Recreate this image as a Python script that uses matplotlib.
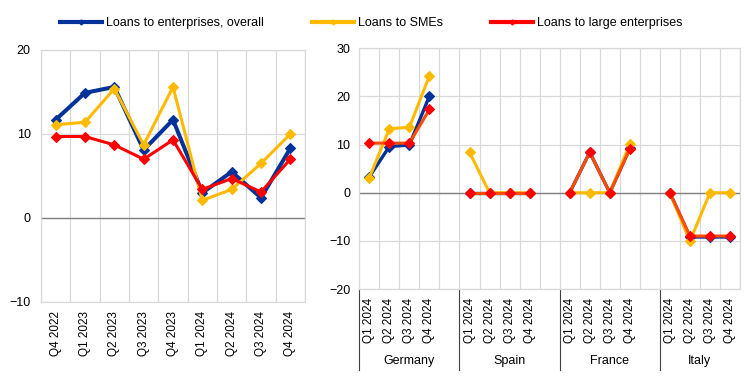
import matplotlib
matplotlib.use("Agg")
import matplotlib.pyplot as plt
from matplotlib.lines import Line2D

plt.rcParams['font.family'] = ['Liberation Sans', 'DejaVu Sans']

# ---- data ----
ea_labels = ['Q4 2022', 'Q1 2023', 'Q2 2023', 'Q3 2023', 'Q4 2023',
             'Q1 2024', 'Q2 2024', 'Q3 2024', 'Q4 2024']
ea_overall = [11.7, 14.9, 15.6, 8.1, 11.7, 3.0, 5.5, 2.4, 8.3]
ea_sme = [11.1, 11.4, 15.4, 8.7, 15.6, 2.1, 3.4, 6.5, 10.0]
ea_large = [9.7, 9.7, 8.7, 7.0, 9.3, 3.4, 4.7, 3.1, 7.0]

countries = ['Germany', 'Spain', 'France', 'Italy']
quarters = ['Q1 2024', 'Q2 2024', 'Q3 2024', 'Q4 2024']
ctry_overall = [[3.3, 9.6, 9.9, 20.1],
                [0.0, 0.0, 0.0, 0.0],
                [0.0, 8.4, 0.0, 9.2],
                [0.0, -9.2, -9.2, -9.2]]
ctry_sme = [[3.1, 13.3, 13.6, 24.3],
            [8.4, 0.0, 0.0, 0.0],
            [0.0, 0.0, 0.0, 10.1],
            [0.0, -10.1, 0.0, 0.0]]
ctry_large = [[10.3, 10.3, 10.3, 17.3],
              [0.0, 0.0, 0.0, 0.0],
              [0.0, 8.4, 0.0, 9.1],
              [0.0, -9.0, -9.0, -9.0]]

series_names = ['Loans to enterprises, overall', 'Loans to SMEs',
                'Loans to large enterprises']

BLUE = '#003299'
YELLOW = '#FFBA00'
RED = '#FF0000'
RED_LINE_R = '#FF4B00'
GRID = '#D9D9D9'
ZERO = '#808080'

W, H = 744, 379
fig = plt.figure(figsize=(W / 100, H / 100), dpi=100)

def fx(px):
    return px / W

def fy(px):
    return 1 - px / H

# ---- left panel ----
axL = fig.add_axes([fx(41), fy(302), fx(305 - 41), (302 - 50) / H])
n = len(ea_labels)
x = list(range(n))
axL.plot(x, ea_overall, color=BLUE, lw=2.9, marker='D', ms=5, mew=0.8, zorder=3)
axL.plot(x, ea_sme, color=YELLOW, lw=2.2, marker='D', ms=5, mew=0.8, zorder=4)
axL.plot(x, ea_large, color=RED, lw=2.2, marker='D', ms=5, mew=0.8, zorder=5)
axL.set_xlim(-0.5, n - 0.5)
axL.set_ylim(-10, 20)
axL.set_yticks([-10, 0, 10, 20])
axL.set_xticks(x)
axL.set_xticklabels(ea_labels, rotation=90, va='top', fontsize=8.5)
axL.set_xticks([i - 0.5 for i in range(n + 1)], minor=True)
axL.tick_params(axis='x', which='both', length=0, pad=6.5)
axL.tick_params(axis='y', length=0, pad=7.5, labelsize=9)
axL.grid(True, which='minor', axis='x', color=GRID, lw=0.9)
axL.grid(True, which='major', axis='y', color=GRID, lw=0.9)
axL.axhline(0, color=ZERO, lw=1.0, zorder=2)
for s in axL.spines.values():
    s.set_color(GRID)
    s.set_linewidth(0.9)

# ---- right panel ----
axR = fig.add_axes([fx(359.3), fy(289), fx(740 - 359.3), (289 - 48.3) / H])
step = len(quarters) + 1
ticks, tlabels = [], []
for i, c in enumerate(countries):
    xs = [i * step + j for j in range(len(quarters))]
    ticks += xs
    tlabels += quarters
    axR.plot(xs, ctry_overall[i], color=BLUE, lw=2.4, marker='D', ms=5, mew=0.8, zorder=3)
    axR.plot(xs, ctry_sme[i], color=YELLOW, lw=2.2, marker='D', ms=5, mew=0.8, zorder=4)
    axR.plot(xs, ctry_large[i], color=RED_LINE_R, lw=2.2, marker='D', ms=5, mew=0.8,
             mfc=RED, mec=RED, zorder=5)
ntot = step * len(countries) - 1
axR.set_xlim(-0.5, ntot - 0.5)
axR.set_ylim(-20, 30)
axR.set_yticks([-20, -10, 0, 10, 20, 30])
axR.set_xticks(ticks)
axR.set_xticklabels(tlabels, rotation=90, va='top', fontsize=8.5)
axR.set_xticks([i - 0.5 for i in range(ntot + 1)], minor=True)
axR.tick_params(axis='x', which='both', length=0, pad=6.5)
axR.tick_params(axis='y', length=0, pad=6.5, labelsize=9)
axR.grid(True, which='minor', axis='x', color=GRID, lw=0.9)
axR.grid(True, which='major', axis='y', color=GRID, lw=0.9)
axR.axhline(0, color=ZERO, lw=1.0, zorder=2)
for s in axR.spines.values():
    s.set_color(GRID)
    s.set_linewidth(0.9)

tr = axR.get_xaxis_transform()
for i, c in enumerate(countries):
    x0 = i * step - 0.5
    axR.plot([x0, x0], [0, -0.337], transform=tr, color='#404040', lw=0.8,
             clip_on=False, zorder=1)
    xc = i * step - 0.5 + min(step, ntot - i * step) / 2
    axR.text(xc, -0.299, c, transform=tr, ha='center', va='center', fontsize=9)

# ---- legend ----
handles = [Line2D([], [], color=BLUE, lw=3, marker='D', ms=2.5),
           Line2D([], [], color=YELLOW, lw=3, marker='D', ms=2.5),
           Line2D([], [], color=RED, lw=3, marker='D', ms=2.5)]
fig.legend(handles, series_names, loc='center left',
           bbox_to_anchor=(fx(60), fy(23)), ncol=3, frameon=False, fontsize=9,
           handlelength=3.36, handletextpad=0.32, columnspacing=3.84,
           borderpad=0, borderaxespad=0)

fig.savefig('out.png', dpi=100)
